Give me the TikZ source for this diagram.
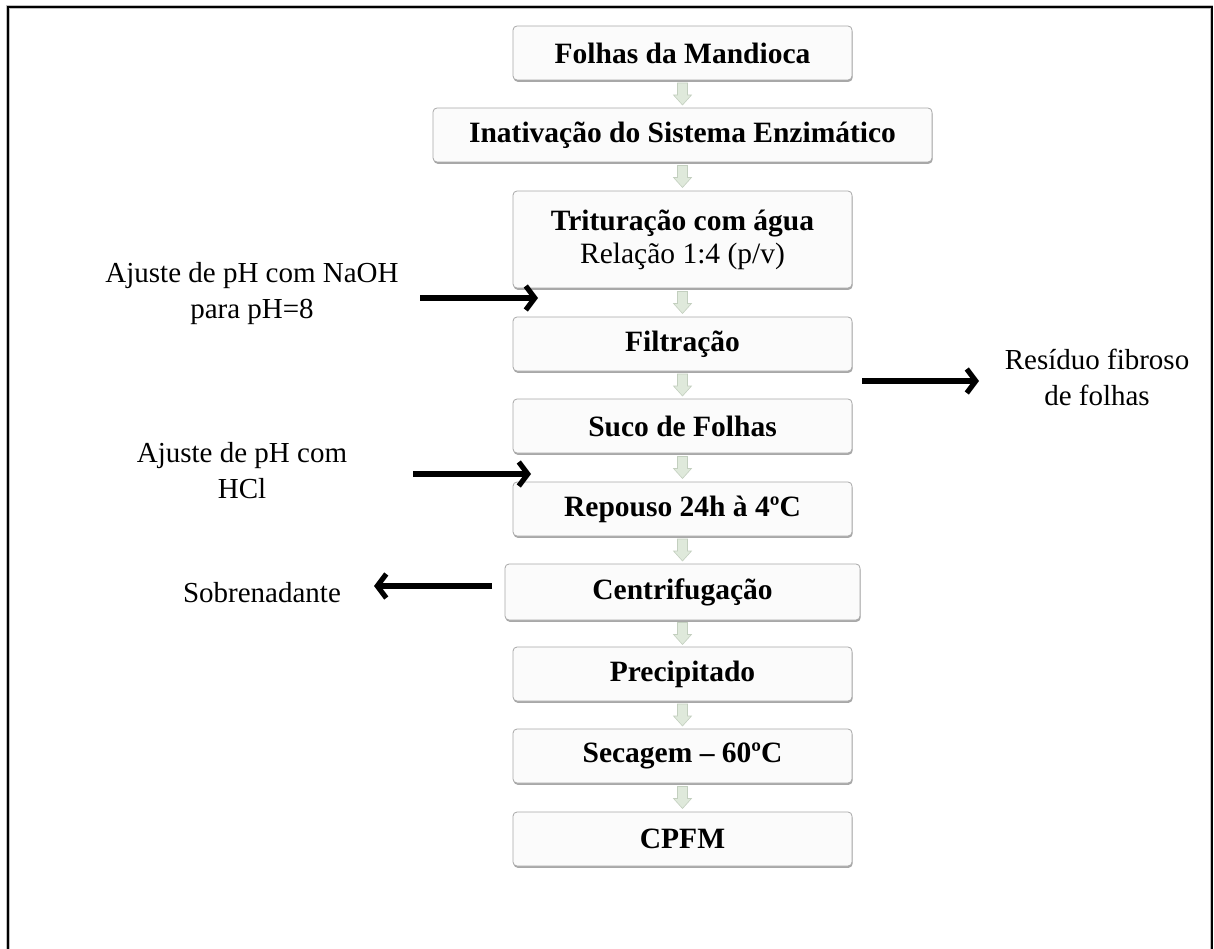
\documentclass[tikz,border=0pt]{standalone}
\usepackage{fontspec}
\setmainfont{Liberation Serif}
\usetikzlibrary{arrows.meta,shadows,calc}
\definecolor{chevfill}{HTML}{DFE9DB}
\definecolor{chevdraw}{HTML}{C3CFBF}
\definecolor{boxdraw}{HTML}{A8A8A8}
\begin{document}
\begin{tikzpicture}[x=1pt,y=-1pt,
  stepbox/.style={draw=boxdraw, fill=gray!3, rounded corners=4pt, line width=0.8pt,
    minimum width=339pt, minimum height=54pt, inner sep=0pt, align=center,
    font=\fontsize{29.5}{33}\selectfont\bfseries,
    drop shadow={shadow xshift=0.6pt, shadow yshift=-1.8pt, fill=gray!75, opacity=0.9}},
  sidelabel/.style={align=center, inner sep=0pt, font=\fontsize{29}{36}\selectfont},
  sidearrow/.style={line width=5.2pt, -{Straight Barb[length=9pt,width=24pt]}},
  chev/.pic={\path[fill=chevfill,draw=chevdraw,line width=0.6pt]
     (-5,-11) -- (5,-11) -- (5,1) -- (9,1) -- (0,11) -- (-9,1) -- (-5,1) -- cycle;}
]
\useasboundingbox (0,0) rectangle (1214,949);
\clip (0,0) rectangle (1214,949);
% frame
\draw[gray!50, line width=3.5pt] (8,960) -- (8,7) -- (1211.5,7) -- (1211.5,960);
\draw[black, line width=2pt] (8,960) -- (8,7) -- (1211.5,7) -- (1211.5,960);

% boxes
\node[stepbox] (b1) at (682.5,53) {Folhas da Mandioca};
\node[stepbox, minimum width=499pt] (b2) at (682.5,135) {Inativação do Sistema Enzimático};
\node[stepbox, minimum height=97pt] (b3) at (682.5,239.5) {Trituração com água\\\mdseries Relação 1:4 (p/v)};
\node[stepbox] (b4) at (682.5,344) {Filtração};
\node[stepbox] (b5) at (682.5,426) {Suco de Folhas};
\node[stepbox] (b6) at (682.5,509) {Repouso 24h à 4ºC};
\node[stepbox, minimum width=355pt, minimum height=56pt] (b7) at (682.5,592) {Centrifugação};
\node[stepbox] (b8) at (682.5,674) {Precipitado};
\node[stepbox] (b9) at (682.5,756) {Secagem – 60ºC};
\node[stepbox] (b10) at (682.5,839) {CPFM};

% chevrons between boxes
\foreach \a/\b in {b1/b2,b2/b3,b3/b4,b4/b5,b5/b6,b6/b7,b7/b8,b8/b9,b9/b10}
  \pic at ($(\a.south)!0.5!(\b.north)$) {chev};

% side labels
\node[sidelabel] (naoh) at (252,294) {Ajuste de pH com NaOH\\para pH=8};
\node[sidelabel] (res) at (1097,377) {Resíduo fibroso\\de folhas};
\node[sidelabel] (hcl) at (242,471) {Ajuste de pH com\\HCl};
\node[sidelabel, anchor=base] (sob) at (262,602) {Sobrenadante};

% side arrows
\coordinate (a1s) at (420,298);
\coordinate (a1e) at (538,298);
\coordinate (a2s) at (862,381);
\coordinate (a2e) at (979,381);
\coordinate (a3s) at (413,474);
\coordinate (a3e) at (531,474);
\coordinate (a4s) at (492,586);
\coordinate (a4e) at (374,586);
\draw[sidearrow] (a1s) -- (a1e);
\draw[sidearrow] (a2s) -- (a2e);
\draw[sidearrow] (a3s) -- (a3e);
\draw[sidearrow] (a4s) -- (a4e);
\end{tikzpicture}
\end{document}
